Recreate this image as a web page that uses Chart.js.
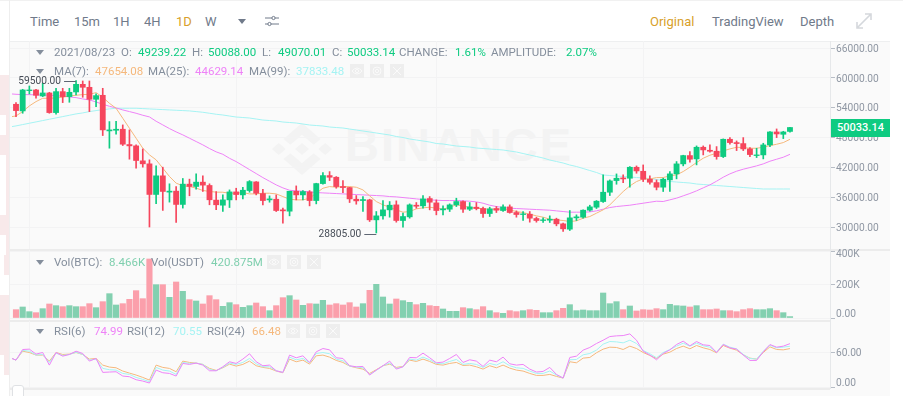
<!DOCTYPE html>
<html lang="en">
<head>
<meta charset="UTF-8">
<title>BTC chart</title>
<script src="https://cdn.jsdelivr.net/npm/chart.js"></script>
<style>
    html, body { margin: 0; padding: 0; background: #fff; overflow: hidden; }
    body { width: 903px; height: 396px; position: relative; font-family: Roboto, sans-serif; }
    #panel { position: absolute; left: 10px; top: 42px; width: 880px; height: 354px; background: #fafafa; }
    #bar { position: absolute; left: 10px; top: 1px; width: 880px; height: 40px; background: #fff; border-bottom: 1px solid #eeeff0; }
    #topline { position: absolute; left: 0; top: 0; width: 903px; height: 1px; background: #f1f1f1; }
    #edge { position: absolute; left: 9px; top: 0; width: 1px; height: 396px; background: #eeeeee; }
    .pink { position: absolute; background: #f8e9ea; }
    .div { position: absolute; background: #ececec; height: 2px; left: 10px; }
    canvas { position: absolute; left: 0; }
    .t { position: absolute; white-space: nowrap; line-height: 14px; }
    .nav { font-size: 13px; color: #707a8a; top: 15px; }
    .gold { color: #d89f2b; }
    .lg { font-size: 11.5px; color: #848e9c; }
    .box { position: absolute; width: 14px; height: 14px; background: #eeeeee; }
    .box svg { display: block; }
    .arr { position: absolute; width: 0; height: 0; border-left: 4px solid transparent; border-right: 4px solid transparent; border-top: 5px solid #848e9c; left: 36px; }
    #tag { position: absolute; left: 831px; top: 119px; width: 59px; height: 18px; background: #0ecb81; color: #fff; font-size: 11px; font-weight: 500; line-height: 18px; text-align: center; }
    #mark { position: absolute; left: 345px; top: 121px; font: bold 47px "Liberation Sans", sans-serif; letter-spacing: 2px; color: #f3f3f3; line-height: 47px; }
    #logo { position: absolute; left: 272px; top: 123px; }
    #grip { position: absolute; left: 12px; top: 385px; width: 10px; height: 12px; background: #fff; border: 1px solid #dfe1e4; border-radius: 3px 3px 0 0; }
</style>
</head>
<body>

<div class="pink" style="left:0;top:75px;width:9px;height:40px"></div>
<div class="pink" style="left:6px;top:115px;width:3px;height:20px"></div>
<div class="pink" style="left:0;top:135px;width:9px;height:20px"></div>
<div class="pink" style="left:6px;top:155px;width:3px;height:60px"></div>
<div class="pink" style="left:0;top:215px;width:9px;height:20px"></div>
<div class="pink" style="left:6px;top:235px;width:3px;height:20px"></div>
<div class="pink" style="left:4px;top:255px;width:5px;height:20px"></div>
<div class="pink" style="left:0;top:295px;width:9px;height:60px"></div>
<div class="pink" style="left:4px;top:355px;width:5px;height:20px"></div>

<div id="panel"></div>
<div id="bar"></div>
<div id="topline"></div>
<div id="edge"></div>

<svg id="logo" width="60" height="52" viewBox="0 0 126.61 126.61" preserveAspectRatio="none">
    <path fill="#f3f3f3" d="M38.73 53.2L63.32 28.62l24.6 24.6 14.3-14.3L63.32 0 24.42 38.9zM0 63.31l14.3-14.31 14.31 14.31-14.31 14.3zM38.73 73.41L63.32 97.99l24.6-24.6 14.31 14.29-38.91 38.93-38.9-38.88zM98.03 63.31l14.3-14.31 14.28 14.31-14.3 14.3zM77.83 63.3L63.32 48.78 48.81 63.28l14.51 14.5 14.51-14.48z"/>
</svg>
<div id="mark">BINANCE</div>

<div class="div" style="top:249px;width:880px"></div>
<div class="div" style="top:320px;width:820px"></div>
<div class="div" style="top:388px;width:820px"></div>

<canvas id="priceChart" width="903" height="228" style="top:31px"></canvas>
<canvas id="volChart" width="903" height="90" style="top:240px"></canvas>
<canvas id="rsiChart" width="903" height="87" style="top:311px"></canvas>

<span class="t nav" style="left:30px">Time</span>
<span class="t nav" style="left:74px">15m</span>
<span class="t nav" style="left:113px">1H</span>
<span class="t nav" style="left:144px">4H</span>
<span class="t nav gold" style="left:176px">1D</span>
<span class="t nav" style="left:205px">W</span>
<div class="arr" style="left:238px;top:19px;border-top-color:#707a8a"></div>
<svg style="position:absolute;left:265px;top:15px" width="14" height="12" viewBox="0 0 14 12" fill="none" stroke="#707a8a" stroke-width="1">
    <path d="M0 3h7M10 3h4M0 9h3M6 9h8"/><circle cx="8.5" cy="3" r="1.6"/><circle cx="4.5" cy="9" r="1.6"/>
</svg>
<span class="t nav gold" style="left:650px">Original</span>
<span class="t nav" style="left:712px">TradingView</span>
<span class="t nav" style="left:800px">Depth</span>
<svg style="position:absolute;left:856px;top:13px" width="16" height="16" viewBox="0 0 16 16" fill="none" stroke="#d5d8dc" stroke-width="1.6">
    <path d="M1 15L15 1M9 1h6v6M1 9v6h6"/>
</svg>

<div class="arr" style="top:50px"></div>
<span class="t lg" style="left:54px;top:45px">2021/08/23</span>
<span class="t lg" style="left:121px;top:45px">O:</span>
<span class="t lg" style="left:138px;top:45px;color:#0ecb81">49239.22</span>
<span class="t lg" style="left:192px;top:45px">H:</span>
<span class="t lg" style="left:208px;top:45px;color:#0ecb81">50088.00</span>
<span class="t lg" style="left:262px;top:45px">L:</span>
<span class="t lg" style="left:278px;top:45px;color:#0ecb81">49070.01</span>
<span class="t lg" style="left:332px;top:45px">C:</span>
<span class="t lg" style="left:347px;top:45px;color:#0ecb81">50033.14</span>
<span class="t lg" style="left:399px;top:45px">CHANGE:</span>
<span class="t lg" style="left:455px;top:45px;color:#0ecb81">1.61%</span>
<span class="t lg" style="left:491px;top:45px">AMPLITUDE:</span>
<span class="t lg" style="left:566px;top:45px;color:#0ecb81">2.07%</span>

<div class="arr" style="top:69px"></div>
<span class="t lg" style="left:54px;top:64px">MA(7):</span>
<span class="t lg" style="left:95px;top:64px;color:#f5b87c">47654.08</span>
<span class="t lg" style="left:148px;top:64px">MA(25):</span>
<span class="t lg" style="left:195px;top:64px;color:#ee82f7">44629.14</span>
<span class="t lg" style="left:249px;top:64px">MA(99):</span>
<span class="t lg" style="left:296px;top:64px;color:#a5f3f3">37833.48</span>
<div class="box" style="left:350px;top:64px"><svg width="14" height="14" fill="none" stroke="#fafafa" stroke-width="1"><path d="M2 7q5-6 10 0q-5 6-10 0z"/><circle cx="7" cy="7" r="1.6"/></svg></div>
<div class="box" style="left:370px;top:64px"><svg width="14" height="14" fill="none" stroke="#fafafa" stroke-width="1"><circle cx="7" cy="7" r="4"/><circle cx="7" cy="7" r="1.6"/></svg></div>
<div class="box" style="left:390px;top:64px"><svg width="14" height="14" fill="none" stroke="#fafafa" stroke-width="1"><path d="M3 3l8 8M11 3l-8 8"/></svg></div>

<div class="arr" style="top:260px"></div>
<span class="t lg" style="left:54px;top:255px">Vol(BTC):</span>
<span class="t lg" style="left:109px;top:255px;color:#7fcfae">8.466K</span>
<span class="t lg" style="left:151px;top:255px">Vol(USDT)</span>
<span class="t lg" style="left:211px;top:255px;color:#7fcfae">420.875M</span>
<div class="box" style="left:267px;top:255px"><svg width="14" height="14" fill="none" stroke="#fafafa" stroke-width="1"><path d="M2 7q5-6 10 0q-5 6-10 0z"/><circle cx="7" cy="7" r="1.6"/></svg></div>
<div class="box" style="left:287px;top:255px"><svg width="14" height="14" fill="none" stroke="#fafafa" stroke-width="1"><circle cx="7" cy="7" r="4"/><circle cx="7" cy="7" r="1.6"/></svg></div>
<div class="box" style="left:307px;top:255px"><svg width="14" height="14" fill="none" stroke="#fafafa" stroke-width="1"><path d="M3 3l8 8M11 3l-8 8"/></svg></div>

<div class="arr" style="top:329px"></div>
<span class="t lg" style="left:54px;top:324px">RSI(6)</span>
<span class="t lg" style="left:94px;top:324px;color:#ee82f7">74.99</span>
<span class="t lg" style="left:127px;top:324px">RSI(12)</span>
<span class="t lg" style="left:173px;top:324px;color:#a5f3f3">70.55</span>
<span class="t lg" style="left:207px;top:324px">RSI(24)</span>
<span class="t lg" style="left:252px;top:324px;color:#f5b87c">66.48</span>
<div class="box" style="left:286px;top:324px"><svg width="14" height="14" fill="none" stroke="#fafafa" stroke-width="1"><path d="M2 7q5-6 10 0q-5 6-10 0z"/><circle cx="7" cy="7" r="1.6"/></svg></div>
<div class="box" style="left:306px;top:324px"><svg width="14" height="14" fill="none" stroke="#fafafa" stroke-width="1"><circle cx="7" cy="7" r="4"/><circle cx="7" cy="7" r="1.6"/></svg></div>
<div class="box" style="left:326px;top:324px"><svg width="14" height="14" fill="none" stroke="#fafafa" stroke-width="1"><path d="M3 3l8 8M11 3l-8 8"/></svg></div>

<div id="tag">50033.14</div>
<div id="grip"></div>

<script>
// days shown, 2021
var dates = [
    '04-29','04-30','05-01','05-02','05-03','05-04','05-05','05-06','05-07','05-08',
    '05-09','05-10','05-11','05-12','05-13','05-14','05-15','05-16','05-17','05-18',
    '05-19','05-20','05-21','05-22','05-23','05-24','05-25','05-26','05-27','05-28',
    '05-29','05-30','05-31','06-01','06-02','06-03','06-04','06-05','06-06','06-07',
    '06-08','06-09','06-10','06-11','06-12','06-13','06-14','06-15','06-16','06-17',
    '06-18','06-19','06-20','06-21','06-22','06-23','06-24','06-25','06-26','06-27',
    '06-28','06-29','06-30','07-01','07-02','07-03','07-04','07-05','07-06','07-07',
    '07-08','07-09','07-10','07-11','07-12','07-13','07-14','07-15','07-16','07-17',
    '07-18','07-19','07-20','07-21','07-22','07-23','07-24','07-25','07-26','07-27',
    '07-28','07-29','07-30','07-31','08-01','08-02','08-03','08-04','08-05','08-06',
    '08-07','08-08','08-09','08-10','08-11','08-12','08-13','08-14','08-15','08-16',
    '08-17','08-18','08-19','08-20','08-21','08-22','08-23'
];
var monthStarts = ['05-01', '06-01', '07-01', '08-01'];

var opens = [
    54709,53369,57456,57590,56384,56987,53034,57255,56250,57188,
    58729,58126,55714,56518,49349,49483,49684,46602,46334,43319,
    42716,36552,40304,37021,37222,34542,38629,38160,39031,38361,
    35413,34388,35460,37068,36465,37336,39078,36733,35460,35594,
    33450,33182,37202,36465,37068,35326,38743,40351,40016,38140,
    37939,35594,35326,35460,31440,32244,33450,34455,31306,32043,
    34388,34254,35728,34857,33450,33584,34455,35125,33584,33986,
    33718,32713,33718,33316,34053,32914,32512,32579,31708,31306,
    31373,31574,30636,29564,31842,31976,33383,33986,35125,37001,
    39346,39882,39815,42026,41222,39614,38944,38016,39490,40696,
    42706,44381,43711,46056,45453,45252,44180,47664,46994,46793,
    45721,44381,44515,46525,49138,48669,49239.22
];
var highs = [
    55044,57724,58394,57724,58930,57121,57925,57925,57925,59500,
    59399,59399,56786,57925,51225,51292,50555,49550,46535,45731,
    43520,42314,42046,38696,38160,39768,39634,40706,40304,38696,
    37155,36465,37470,37805,38006,39346,39145,37604,36264,36465,
    33785,37202,38274,37336,37336,38810,40954,41155,40150,39346,
    38006,36331,36130,35594,33115,35326,35125,35259,32780,34656,
    34924,36331,36130,35460,34254,34656,35795,35259,34924,34924,
    33986,33986,34120,34455,34455,33249,33115,33115,31976,31842,
    32244,31775,30770,33316,32445,33450,34388,35326,40485,39480,
    40686,40485,42160,42294,42495,40284,39480,39825,41165,43175,
    44448,45185,46324,46324,46525,46190,47731,47999,47329,47999,
    45989,45855,46860,49205,49741,49272,50088
];
var lows = [
    52230,52900,56786,55915,56250,52900,52699,55044,55111,56585,
    56116,53235,54240,48411,45865,48679,46401,43654,41845,42046,
    30000,34676,33336,35011,30924,33805,36284,37624,37155,34475,
    33470,33115,33919,35460,35661,37001,36465,34455,34991,33115,
    30770,32244,35460,35460,34254,34656,38609,39346,37805,36934,
    34924,34589,33115,31105,28805,31574,31976,30971,29966,31775,
    33785,33785,33450,32445,32445,33115,34120,32914,33316,33450,
    31909,32110,32914,33115,32780,31976,31306,30971,30971,30904,
    30904,30234,29095,29296,31306,31775,33182,33718,34924,36331,
    38609,38944,38006,40820,39145,38609,37470,37145,37145,39691,
    42304,43041,42505,44515,45051,43644,43979,46659,45386,45386,
    44180,43979,43711,46190,47999,47798,49070.01
];
var closes = [
    53436,57590,57590,56518,56987,53034,57255,56250,57121,58729,
    58126,55714,56451,49550,49550,49684,46669,46334,43386,42716,
    36552,40304,37155,37222,34542,38629,38160,39031,38428,35480,
    34475,35460,37068,36532,37403,39145,36800,35326,35661,33316,
    33249,37202,36465,37135,35326,38743,40351,40016,38140,37939,
    35661,35259,35527,31440,32244,33450,34388,31306,32110,34455,
    34187,35661,34991,33316,33651,34455,35125,33584,34053,33718,
    32713,33651,33383,34053,32914,32512,32646,31775,31306,31440,
    31574,30636,29631,31842,32043,33383,34053,35192,37001,39279,
    39815,39681,42026,41289,39614,39011,38006,39624,40696,42706,
    44381,43644,46056,45520,45252,44180,47664,46994,46793,45721,
    44582,44515,46525,49138,48736,49138,50033.14
];
var ma7 = [
    52364,53235,54374,55245,55915,55915,55982,56116,56384,56518,
    56652,56719,57054,56116,54910,53905,51895,49885,47875,45865,
    44525,43520,41845,40170,38830,38294,38160,37825,37356,37155,
    37021,37001,36800,36800,36934,36666,36666,36800,36800,36666,
    36130,35594,35460,35460,35795,36800,37805,38140,38006,38140,
    38140,38006,37470,36264,35125,34455,33986,33450,32981,33115,
    33651,33852,33986,33785,33584,33986,34455,34254,33919,33785,
    33651,33584,33584,33651,33450,33115,32914,32579,32244,31976,
    31574,31440,31306,31105,31239,31775,32110,32780,33450,34455,
    35795,37135,38274,39145,39681,39681,39949,39959,40294,40495,
    41165,42036,42974,43845,44448,44850,45319,45721,46056,45989,
    45855,45855,46056,46391,46659,46994,47654
];
var ma25 = [
    56719,56652,56652,56585,56585,56518,56451,56317,56183,56049,
    55781,55580,55178,54709,54307,53972,53570,53235,52900,52498,
    52163,51292,50555,49818,49148,48545,47875,47205,46535,45798,
    45128,44639,43835,43165,42361,41557,40753,39949,39212,38475,
    37872,37403,37269,37202,37068,36934,36867,36800,36733,36666,
    36599,36532,36465,36398,36331,36264,36130,36063,35929,35795,
    35661,35527,35460,35393,35326,35326,35326,35259,35192,35058,
    34790,34388,34120,33919,33785,33718,33651,33584,33517,33450,
    33383,33249,33115,32981,32981,32981,33048,33249,33584,33919,
    34120,34254,34388,34589,34790,34991,35192,35135,35470,35805,
    36274,36743,37279,37882,38485,39222,40026,40696,41232,41634,
    41969,42304,42706,43242,43644,44046,44629
];
var ma99 = [
    50354,50622,50890,51158,51426,51694,51962,52230,52498,52766,
    52967,53235,53436,53637,53771,53905,53905,53905,53905,53838,
    53771,53704,53637,53570,53503,53436,53369,53235,53101,52900,
    52699,52546,52344,52143,52042,51942,51740,51539,51438,51338,
    51137,51036,50935,50734,50533,50432,50331,50130,50029,49929,
    49727,49526,49325,49124,48922,48721,48520,48218,48016,47714,
    47513,47312,47111,46809,46708,46507,46305,46205,46104,45903,
    45802,45701,45601,45500,45299,45098,44796,44494,44192,43890,
    43487,43185,42883,42481,42179,41776,41373,40971,40468,40367,
    40266,40166,40065,39964,39864,39763,39562,39360,39159,39059,
    38958,38857,38656,38555,38455,38354,38253,38153,38052,37951,
    37851,37750,37649,37649,37649,37649,37649
];
// thousands of BTC
var volumes = [
    50,66,38,32,56,84,74,68,74,68,
    68,86,62,98,146,78,86,112,164,116,
    354,200,200,124,216,160,110,102,84,134,
    110,70,92,80,64,74,90,68,44,74,
    122,134,108,76,86,84,106,78,86,78,
    92,66,86,166,202,126,84,114,104,94,
    80,88,74,70,54,40,40,62,56,50,
    68,44,32,28,44,38,44,50,46,32,
    32,44,58,80,44,48,44,44,150,86,
    98,50,72,42,50,48,56,50,82,74,
    72,66,74,50,50,54,44,44,38,50,
    56,50,50,56,44,32,8.466
];
var rsi6 = [
    46.5,64.9,65.5,56.9,59.7,37.9,59.7,53.4,56.3,62.0,
    58.0,44.8,49.4,25.3,25.9,26.4,19.0,17.8,12.6,10.3,
    6.9,29.3,24.7,23.5,19.0,40.8,39.1,41.4,37.9,28.1,
    28.1,35.0,43.7,40.8,48.3,57.5,43.7,36.8,37.9,28.1,
    25.3,55.2,50.6,54.0,42.5,60.9,66.6,64.3,50.6,49.4,
    36.8,35.0,35.6,20.7,29.3,36.8,44.8,31.0,35.0,51.1,
    50.6,58.6,50.6,41.9,43.1,49.4,56.3,42.5,47.1,44.8,
    35.6,46.5,43.7,51.7,40.2,37.9,39.1,31.0,25.9,27.0,
    33.9,21.8,15.5,51.1,53.4,63.8,68.4,75.3,81.0,87.3,
    88.5,89.0,91.9,81.0,62.0,55.2,47.1,58.0,64.3,73.5,
    79.3,71.2,78.7,73.0,71.8,59.7,73.5,67.8,65.5,55.2,
    46.0,46.0,60.9,73.5,68.9,70.7,74.99
];
var rsi12 = [
    46.5,63.2,62.0,55.2,56.3,42.5,58.6,54.6,56.3,60.3,
    56.3,46.5,48.3,32.2,29.9,29.3,23.5,21.8,16.6,13.2,
    9.2,33.9,29.3,27.6,21.8,42.5,40.8,41.4,39.1,30.4,
    28.1,33.9,41.4,39.1,42.5,49.4,40.2,35.0,35.0,28.1,
    25.3,51.7,47.1,49.4,41.9,58.0,59.7,57.5,48.3,45.4,
    36.2,34.5,33.3,21.8,28.7,36.8,41.4,32.2,35.0,48.3,
    46.5,51.7,47.1,40.8,40.2,44.2,47.7,39.1,40.8,39.1,
    33.9,40.8,37.9,43.7,36.8,33.3,32.2,27.6,23.5,23.5,
    27.6,20.7,15.5,47.1,47.7,55.7,58.0,63.8,74.1,78.7,
    78.1,76.4,81.0,75.3,63.2,57.5,50.6,59.7,64.9,70.7,
    75.8,70.7,75.8,71.2,68.9,60.3,74.1,68.9,66.1,56.3,
    49.4,48.3,62.0,72.4,67.8,68.9,70.55
];
var rsi24 = [
    46.5,62.0,59.7,55.2,55.2,44.8,59.7,56.3,56.9,59.7,
    56.3,48.3,49.4,37.9,34.5,33.3,27.6,24.1,20.7,16.6,
    12.0,37.9,33.9,32.2,26.4,44.8,42.5,41.4,39.1,32.2,
    28.7,33.3,39.6,36.2,39.1,44.8,36.8,33.9,32.2,27.6,
    24.7,48.3,43.7,46.5,39.6,54.0,55.2,51.7,46.0,42.5,
    36.2,33.3,31.0,23.5,29.9,36.8,39.6,33.9,35.6,46.5,
    44.2,48.3,44.2,39.1,37.9,40.8,42.5,37.3,37.9,35.0,
    31.0,36.8,33.3,37.9,32.7,29.3,27.6,23.5,20.1,20.1,
    21.8,18.4,15.5,43.7,41.9,50.0,51.1,59.2,65.5,68.9,
    68.4,64.9,70.7,66.6,59.7,54.6,49.4,56.9,60.3,66.6,
    70.7,66.1,71.8,67.8,64.9,59.2,71.8,67.2,63.8,55.7,
    50.0,48.3,59.7,69.5,64.9,64.3,66.48
];
// where each line enters at the left edge, before the first candle
var maEntry = [52230, 56786, 50220];
var rsiEntry = [49.4, 49.4, 49.4];

var priceTicks = [30000, 36000, 42000, 48000, 54000, 60000, 66000];
var volTicks = [0, 200, 400];
var volTickLabels = ['0.00', '200K', '400K'];
var rsiTicks = [0, 60];
var rsiTickLabels = ['0.00', '60.00'];

var GREEN = '#0ecb81', RED = '#f6465d';
var GREEN_SOFT = '#83d0b0', RED_SOFT = '#fb9fab';
var ORANGE = '#f5b87c', MAGENTA = '#ee82f7', CYAN = '#a5f3f3';
var GRID = '#f3f3f4', AXIS = '#e6e8ea', TICK = '#b7bdc6', LABEL = '#8f97a3';

var up = closes.map((c, i) => c >= opens[i]);

// x is the day's position in dates, so the candles keep an even spacing
function pts(values) {
    return values.map((v, i) => ({ x: i, y: v }));
}

function lineSet(values, entry, color) {
    return {
        type: 'line',
        data: [{ x: -0.6, y: entry }].concat(pts(values)),
        borderColor: color,
        borderWidth: 1,
        pointRadius: 0,
        tension: 0,
        order: 3
    };
}

function xAxis() {
    return {
        type: 'linear',
        offset: false,
        min: -0.9,
        max: 122,
        afterBuildTicks: function (s) {
            s.ticks = monthStarts.map(d => ({ value: dates.indexOf(d) }));
        },
        ticks: { display: false, autoSkip: false },
        grid: { color: GRID, drawTicks: false, offset: false },
        border: { display: false }
    };
}

function yAxis(min, max, tickValues, labels, fontFn) {
    return {
        position: 'right',
        min: min,
        max: max,
        afterBuildTicks: function (s) {
            s.ticks = tickValues.map(v => ({ value: v }));
        },
        afterFit: function (s) { s.width = 73; },
        ticks: {
            autoSkip: false,
            padding: 1,
            color: LABEL,
            font: fontFn,
            callback: labels
        },
        grid: { color: GRID, tickColor: TICK, tickLength: 5 },
        border: { color: AXIS }
    };
}

function baseOptions(scales) {
    return {
        responsive: false,
        animation: false,
        layout: { padding: { left: 10, top: 10, bottom: 10, right: 0 } },
        plugins: { legend: { display: false }, tooltip: { enabled: false } },
        scales: scales
    };
}

// high and low of the view, written next to their wick
var extremeMarks = {
    id: 'extremeMarks',
    afterDatasetsDraw: function (chart) {
        var c = chart.ctx, sx = chart.scales.x, sy = chart.scales.y;
        var hi = Math.max.apply(null, highs), lo = Math.min.apply(null, lows);
        [[highs.indexOf(hi), hi], [lows.indexOf(lo), lo]].forEach(function (m) {
            var px = sx.getPixelForValue(m[0]), py = Math.round(sy.getPixelForValue(m[1])) + 1.5;
            c.save();
            c.strokeStyle = '#5e6673';
            c.lineWidth = 1;
            c.beginPath();
            c.moveTo(px - 12, py);
            c.lineTo(px, py);
            c.stroke();
            c.fillStyle = '#474d57';
            c.font = '10.2px Roboto';
            c.textAlign = 'right';
            c.textBaseline = 'middle';
            c.fillText(m[1].toFixed(2), px - 15, py);
            c.restore();
        });
    }
};

new Chart(document.getElementById('priceChart').getContext('2d'), {
    type: 'bar',
    data: {
        datasets: [
            lineSet(ma7, maEntry[0], ORANGE),
            lineSet(ma25, maEntry[1], MAGENTA),
            lineSet(ma99, maEntry[2], CYAN),
            {
                // wicks
                data: lows.map((l, i) => ({ x: i, y: [l, highs[i]] })),
                backgroundColor: up.map(u => u ? GREEN : RED),
                barThickness: 1,
                grouped: false,
                order: 2
            },
            {
                // bodies
                data: opens.map((o, i) => ({ x: i, y: [o, closes[i]] })),
                backgroundColor: up.map(u => u ? GREEN : RED),
                barThickness: 5.2,
                grouped: false,
                order: 1
            }
        ]
    },
    options: baseOptions({
        x: xAxis(),
        // the empty first line moves each label 1px down, as in the original
        y: yAxis(25571, 67447, priceTicks, v => ['', v.toFixed(2)], { size: 10.2, family: 'Roboto', lineHeight: '2px' })
    }),
    plugins: [extremeMarks]
});

new Chart(document.getElementById('volChart').getContext('2d'), {
    type: 'bar',
    data: {
        datasets: [{
            data: pts(volumes),
            backgroundColor: up.map(u => u ? GREEN_SOFT : RED_SOFT),
            barThickness: 5.5
        }]
    },
    options: baseOptions({
        x: xAxis(),
        y: yAxis(-12, 408, volTicks, function (v, i) {
            // two lines push the edge labels inside the panel
            if (v === 0) return [volTickLabels[i], ''];
            return ['', volTickLabels[i]];
        }, function (ctx) {
            var v = ctx.tick ? ctx.tick.value : 200;
            var h = v === 0 ? '7px' : (v === 400 ? '6px' : '2px');
            return { size: 10.2, family: 'Roboto', lineHeight: h };
        })
    })
});

new Chart(document.getElementById('rsiChart').getContext('2d'), {
    type: 'line',
    data: {
        datasets: [lineSet(rsi6, rsiEntry[0], MAGENTA), lineSet(rsi12, rsiEntry[1], CYAN), lineSet(rsi24, rsiEntry[2], ORANGE)]
    },
    options: baseOptions({
        x: xAxis(),
        y: yAxis(-1.7, 114.2, rsiTicks, function (v, i) {
            return v === 0 ? [rsiTickLabels[i], ''] : ['', rsiTickLabels[i]];
        }, function (ctx) {
            var v = ctx.tick ? ctx.tick.value : 60;
            return { size: 10.2, family: 'Roboto', lineHeight: v === 0 ? '7px' : '2px' };
        })
    })
});
</script>

</body>
</html>
